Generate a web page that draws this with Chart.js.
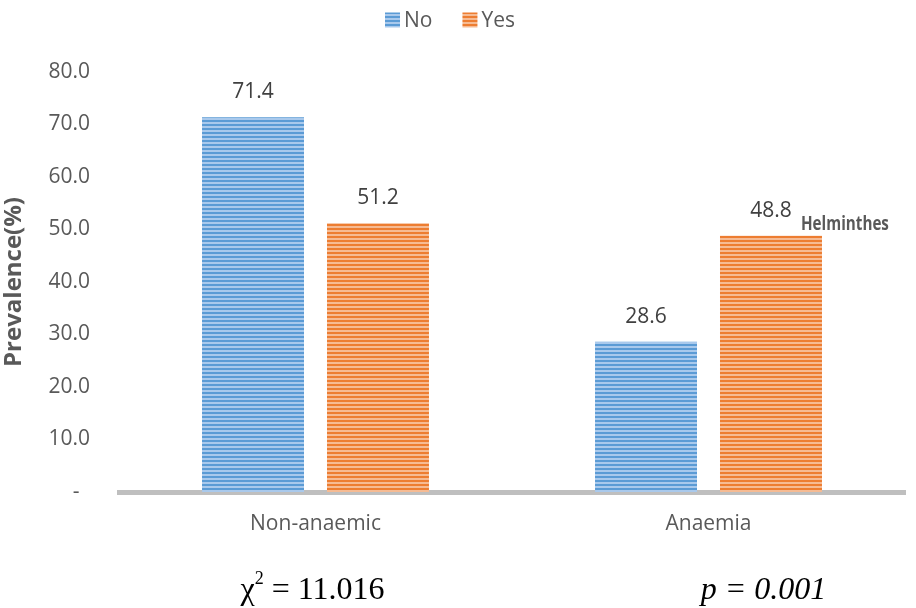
<!DOCTYPE html>
<html>
<head>
<meta charset="utf-8">
<script src="https://cdn.jsdelivr.net/npm/chart.js@4.4.1/dist/chart.umd.min.js"></script>
<style>
html,body{margin:0;padding:0;background:#fff;}
#wrap{width:916px;height:608px;position:relative;}
</style>
</head>
<body>
<div id="wrap"><canvas id="c" width="916" height="608"></canvas></div>
<script>
const categories = ["Non-anaemic", "Anaemia"];
const seriesNames = ["No", "Yes"];
const noValues = [71.4, 28.6];
const yesValues = [51.2, 48.8];
const yTicks = [0, 10, 20, 30, 40, 50, 60, 70, 80];
const yTitle = "Prevalence(%)";
const seriesNote = "Helminthes";
const statChi = "11.016";
const statP = "0.001";

function stripe(dark, light) {
  const p = document.createElement('canvas');
  p.width = 4; p.height = 4;
  const g = p.getContext('2d');
  g.fillStyle = light; g.fillRect(0, 0, 4, 4);
  g.fillStyle = dark; g.fillRect(0, 0, 4, 2);
  return g.createPattern(p, 'repeat');
}
const ctx0 = document.getElementById('c').getContext('2d');
const bluePat = stripe('#5b9bd5', '#a9c9ec');
const orangePat = stripe('#ed7d31', '#f6bb93');

const FONT = "'Open Sans', 'Noto Sans', sans-serif";

const legendPlugin = {
  id: 'customLegend',
  afterDraw(chart) {
    const c = chart.ctx;
    c.save();
    c.font = "21px " + FONT;
    c.textBaseline = 'middle';
    c.textAlign = 'left';
    const box = 15, gapText = 4, gapItem = 30, yMid = 20;
    const items = chart.data.datasets.map(ds => ({ label: ds.label, fill: ds.backgroundColor, w: c.measureText(ds.label).width }));
    let total = 0;
    items.forEach((it, i) => { total += box + gapText + it.w + (i < items.length - 1 ? gapItem : 0); });
    let x = chart.width / 2 - 8 - total / 2;
    items.forEach(it => {
      c.fillStyle = it.fill;
      c.fillRect(x, yMid - box / 2, box, box);
      c.fillStyle = '#595959';
      c.fillText(it.label, x + box + gapText, yMid + 1);
      x += box + gapText + it.w + gapItem;
    });
    c.restore();
  }
};

const labelPlugin = {
  id: 'labels',
  afterDatasetsDraw(chart) {
    const c = chart.ctx;
    c.save();
    c.font = "21px " + FONT;
    c.fillStyle = '#404040';
    c.textAlign = 'center';
    c.textBaseline = 'middle';
    chart.data.datasets.forEach((ds, i) => {
      chart.getDatasetMeta(i).data.forEach((bar, j) => {
        c.fillText(ds.data[j].toFixed(1), bar.x, bar.y - 25);
      });
    });
    // series note next to last bar (condensed bold)
    const meta = chart.getDatasetMeta(1);
    const last = meta.data[meta.data.length - 1];
    c.save();
    c.translate(last.x + 30, last.y - 11);
    c.scale(0.8, 1);
    c.font = "bold 19px " + FONT;
    c.fillStyle = '#595959';
    c.textAlign = 'left';
    c.fillText(seriesNote, 0, 0);
    c.restore();
    // stats
    const xs = chart.scales.x;
    c.fillStyle = '#000';
    c.textBaseline = 'alphabetic';
    c.textAlign = 'left';
    const big = "32px 'Liberation Serif', serif";
    const small = "18px 'Liberation Serif', serif";
    c.font = big;
    const chiTxt = " = " + statChi;
    const chiW = c.measureText('χ').width;
    const restW = c.measureText(chiTxt).width;
    c.font = small;
    const supW = c.measureText('2').width;
    const total = chiW + supW + restW;
    let x0 = xs.getPixelForValue(0) - total / 2 - 3;
    const yb = 599;
    c.font = big;
    c.fillText('χ', x0, yb);
    c.font = small;
    c.fillText('2', x0 + chiW, yb - 15);
    c.font = big;
    c.fillText(chiTxt, x0 + chiW + supW, yb);
    c.font = "italic 32px 'Liberation Serif', serif";
    c.textAlign = 'center';
    c.fillText("p = " + statP, xs.getPixelForValue(1) + 55, yb);
    c.restore();
  }
};

new Chart(ctx0, {
  type: 'bar',
  data: {
    labels: categories,
    datasets: [
      { label: seriesNames[0], data: noValues, backgroundColor: bluePat, borderWidth: 0 },
      { label: seriesNames[1], data: yesValues, backgroundColor: orangePat, borderWidth: 0 }
    ]
  },
  options: {
    responsive: false,
    animation: false,
    categoryPercentage: 0.636,
    barPercentage: 0.816,
    layout: { padding: { left: 0, right: 11, top: 72, bottom: 0 } },
    plugins: {
      legend: { display: false },
      tooltip: { enabled: false }
    },
    scales: {
      x: {
        grid: { display: false, drawTicks: false },
        border: { display: true, color: '#bfbfbf', width: 5 },
        ticks: { font: { family: FONT, size: 21 }, color: '#595959', padding: 19 },
        afterFit(s) { s.height = 116; }
      },
      y: {
        min: 0, max: 80,
        afterBuildTicks(s) { s.ticks = yTicks.map(v => ({ value: v })); },
        grid: { display: false, drawTicks: false },
        border: { display: false },
        ticks: {
          font: { family: FONT, size: 21 },
          color: '#595959',
          padding: 29,
          callback(v) { return v === 0 ? '-\u2002' : Number(v).toFixed(1); }
        },
        title: { display: true, text: yTitle, font: { family: FONT, size: 24, weight: 'bold' }, color: '#595959', padding: { top: 0, bottom: 0 } },
        afterFit(s) { s.width = 119; }
      }
    }
  },
  plugins: [labelPlugin, legendPlugin]
});
</script>
</body>
</html>
